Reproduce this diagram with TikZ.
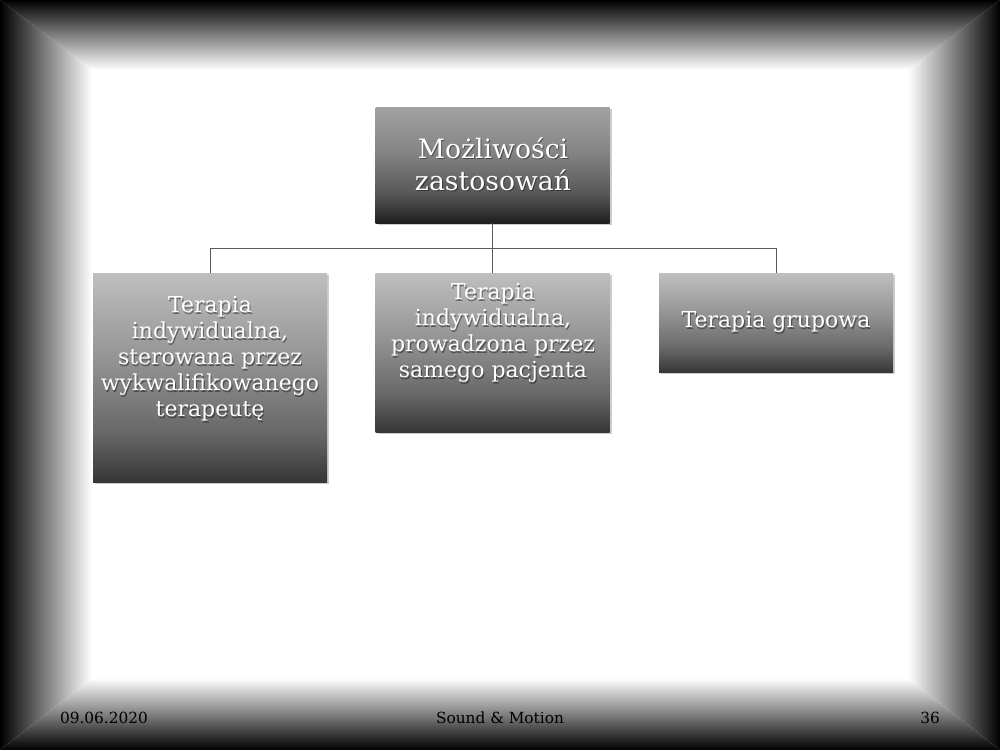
\documentclass[tikz,border=0pt]{standalone}
\usepackage{fontspec}
\setmainfont{DejaVu Serif}
\usetikzlibrary{shadows}
\definecolor{cA1}{HTML}{A2A2A2}
\definecolor{cA2}{HTML}{838383}
\definecolor{cA3}{HTML}{555555}
\definecolor{cA4}{HTML}{1E1E1E}
\definecolor{cB1}{HTML}{BFBFBF}
\definecolor{cB2}{HTML}{959595}
\definecolor{cB3}{HTML}{686868}
\definecolor{cB4}{HTML}{363636}
\definecolor{linec}{HTML}{5A5A5A}
\pgfdeclareverticalshading{boxA}{100bp}{color(0bp)=(cA4); color(25bp)=(cA4); color(37bp)=(cA3); color(55bp)=(cA2); color(75bp)=(cA1); color(100bp)=(cA1)}
\pgfdeclareverticalshading{boxB}{100bp}{color(0bp)=(cB4); color(25bp)=(cB4); color(37bp)=(cB3); color(55bp)=(cB2); color(75bp)=(cB1); color(100bp)=(cB1)}
\tikzset{
  box/.style={draw=none, inner sep=0pt, minimum width=175.5pt,
    drop shadow={shadow xshift=1.5pt, shadow yshift=-1.5pt, opacity=0.2, fill=black}},
  topbox/.style={box, shading=boxA},
  subbox/.style={box, shading=boxB},
  lbl/.style={align=center, text=white, inner sep=0pt},
  lblshadow/.style={align=center, text=black, text opacity=0.4, inner sep=0pt, xshift=0.8pt, yshift=-1.2pt},
  bigfont/.style={font=\fontsize{20}{24}\selectfont},
  smallfont/.style={font=\fontsize{16.5}{19.5}\selectfont},
  footer/.style={font=\fontsize{11.5}{13}\selectfont, text=black, inner sep=0pt},
  conn/.style={draw=linec, line width=0.75pt}
}
\begin{document}
\begin{tikzpicture}[x=0.75pt, y=-0.75pt]
\useasboundingbox (0,0) rectangle (1000,750);
\fill[white] (0,0) rectangle (1000,750);
% frame
\begin{scope}
  \clip (0,0) -- (1000,0) -- (908,70) -- (92,70) -- cycle;
  \shade[top color=black, bottom color=white] (0,0) rectangle (1000,70);
\end{scope}
\begin{scope}
  \clip (0,750) -- (1000,750) -- (908,678) -- (92,678) -- cycle;
  \shade[top color=white, bottom color=black] (0,678) rectangle (1000,750);
\end{scope}
\begin{scope}
  \clip (0,0) -- (92,70) -- (92,678) -- (0,750) -- cycle;
  \shade[left color=black, right color=white] (0,0) rectangle (92,750);
\end{scope}
\begin{scope}
  \clip (1000,0) -- (908,70) -- (908,678) -- (1000,750) -- cycle;
  \shade[left color=white, right color=black] (908,0) rectangle (1000,750);
\end{scope}

% boxes
\node[topbox, minimum height=87pt] (top) at (492.5,165) {};
\node[subbox, minimum height=156.75pt] (b1) at (210,377.5) {};
\node[subbox, minimum height=119.25pt] (b2) at (492.5,352.5) {};
\node[subbox, minimum height=74.25pt] (b3) at (776,322.5) {};

% connectors
\coordinate (bus) at (492.5,248);
\draw[conn] (top.south) -- (bus);
\draw[conn] (b1.north) |- (bus);
\draw[conn] (b2.north) -- (bus);
\draw[conn] (b3.north) |- (bus);

% labels
\node[lblshadow, bigfont] (t0s) at (493,164) {Możliwości\\zastosowań};
\node[lbl, bigfont] (t0) at (493,164) {Możliwości\\zastosowań};
\node[lblshadow, smallfont] (t1s) at (210,359) {Terapia\\indywidualna,\\sterowana przez\\wykwalifikowanego\\terapeutę};
\node[lbl, smallfont] (t1) at (210,359) {Terapia\\indywidualna,\\sterowana przez\\wykwalifikowanego\\terapeutę};
\node[lblshadow, smallfont] (t2s) at (493,333) {Terapia\\indywidualna,\\prowadzona przez\\samego pacjenta};
\node[lbl, smallfont] (t2) at (493,333) {Terapia\\indywidualna,\\prowadzona przez\\samego pacjenta};
\node[lblshadow, smallfont] (t3s) at (776,322) {Terapia grupowa};
\node[lbl, smallfont] (t3) at (776,322) {Terapia grupowa};

% footer
\node[footer] (date) at (104,718) {09.06.2020};
\node[footer] (title) at (500,718) {Sound \& Motion};
\node[footer] (num) at (930,718) {36};
\end{tikzpicture}
\end{document}
